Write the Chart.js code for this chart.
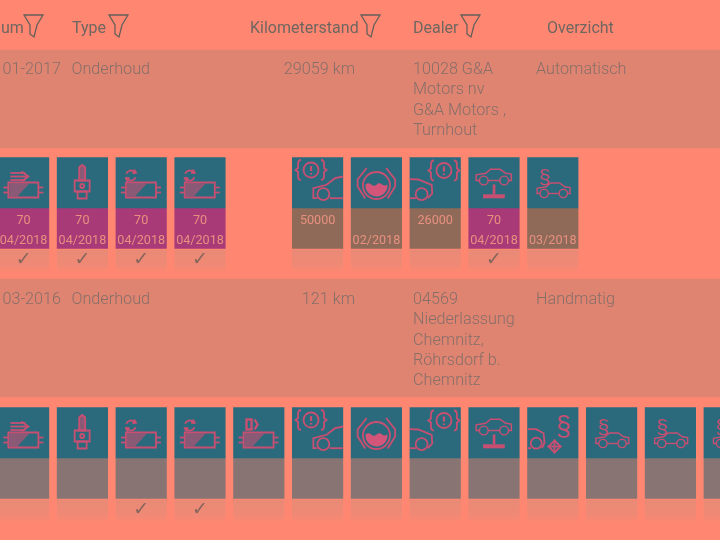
<!DOCTYPE html>
<html>
<head>
<meta charset="utf-8">
<style>
html, body { margin: 0; padding: 0; background: #ff8772; overflow: hidden; }
canvas { display: block; }
</style>
<script src="https://cdn.jsdelivr.net/npm/chart.js@4/dist/chart.umd.min.js"></script>
</head>
<body>
<canvas id="chart" width="720" height="540"></canvas>
<script>
// table contents
const headers = ["um", "Type", "Kilometerstand", "Dealer", "Overzicht"];
const dates = ["01-2017", "03-2016"];
const types = ["Onderhoud", "Onderhoud"];
const mileages = ["29059 km", "121 km"];
const dealers = [
    ["10028 G&A", "Motors nv", "G&A Motors ,", "Turnhout"],
    ["04569", "Niederlassung", "Chemnitz,", "Röhrsdorf b.", "Chemnitz"]
];
const overviews = ["Automatisch", "Handmatig"];

// service tiles, one entry per slot, null = empty slot
const row1Icons = ["air", "plug", "oil", "oil", null, "brakeL", "fluid", "brakeR", "lift", "law"];
const row1Values = ["70", "70", "70", "70", "", "50000", "", "26000", "70", ""];
const row1Dates = ["04/2018", "04/2018", "04/2018", "04/2018", "", "", "02/2018", "", "04/2018", "03/2018"];
const row1Done = [1, 1, 1, 1, 0, 0, 0, 0, 1, 0];

const row2Icons = ["air", "plug", "oil", "oil", "fuel", "brakeL", "fluid", "brakeR", "lift", "tow", "law", "law", "law"];
const row2Done = [0, 0, 1, 1, 0, 0, 0, 0, 0, 0, 0, 0, 0];

// colours
const BG = "#ff8772", STRIPE = "#e08472", TEAL = "#2b6a7c", MAGENTA = "#a83a78",
    BROWN = "#8f6a59", GREY = "#887573", ICON = "#c94f72", HEAD = "#6f6660", TEXT = "#866f68", TILE = "#e8907f";

// layout bands (page rows)
const stripes = [[50, 148], [279, 397]];
const tops = [157.5, 407.5];
const SPLIT = 50.5, LOWER = 91, FADE_TOP = 92.5, FADE_BOT = 114;
const FONT = "Roboto, 'Liberation Sans', sans-serif";

const rows = [
    { icons: row1Icons, done: row1Done, values: row1Values, dates: row1Dates },
    { icons: row2Icons, done: row2Done, values: [], dates: [] }
];

const tealBars = [], lowerBars = [], lowerColors = [], fadeBars = [];
rows.forEach((r, ri) => {
    r.icons.forEach((ic, i) => {
        if (!ic) return;
        const t = tops[ri];
        tealBars.push({ x: i, y: [t, t + SPLIT] });
        lowerBars.push({ x: i, y: [t + SPLIT, t + LOWER] });
        fadeBars.push({ x: i, y: [t + FADE_TOP, t + FADE_BOT] });
        const hasInfo = r.values[i] || r.dates[i];
        lowerColors.push(r.done[i] && hasInfo ? MAGENTA : hasInfo ? BROWN : GREY);
    });
});

// icons are drawn in tile coordinates (0..50)
function line(c, pts, close) {
    c.beginPath();
    pts.forEach((p, i) => i ? c.lineTo(p[0], p[1]) : c.moveTo(p[0], p[1]));
    if (close) c.closePath();
    c.stroke();
}
function circle(c, x, y, r) {
    c.beginPath();
    c.arc(x, y, r, 0, Math.PI * 2);
    c.stroke();
}
function canister(c) {
    line(c, [[10, 25], [10, 40], [40, 40], [40, 25]], true);
    line(c, [[5, 30], [10, 30]]); line(c, [[5, 35], [10, 35]]);
    line(c, [[40, 30], [45, 30]]); line(c, [[40, 35], [45, 35]]);
    c.save();
    c.fillStyle = "rgba(201,79,114,0.6)";
    c.beginPath();
    c.moveTo(11, 26); c.lineTo(31, 26); c.lineTo(19, 39); c.lineTo(11, 39);
    c.closePath();
    c.fill();
    c.restore();
}
function warning(c, x, y) {
    circle(c, x, y, 7.5);
    c.save();
    c.lineWidth = 2.2;
    line(c, [[x, y - 4], [x, y + 1]]);
    line(c, [[x, y + 3], [x, y + 4.5]]);
    c.restore();
    [-1, 1].forEach(s => {
        c.beginPath();
        c.moveTo(x + s * 10, y - 10);
        c.quadraticCurveTo(x + s * 13, y - 10, x + s * 13, y - 6);
        c.lineTo(x + s * 13, y - 2);
        c.lineTo(x + s * 15.5, y);
        c.lineTo(x + s * 13, y + 2);
        c.lineTo(x + s * 13, y + 6);
        c.quadraticCurveTo(x + s * 13, y + 10, x + s * 10, y + 10);
        c.stroke();
    });
}
function smallCar(c, x, y, s) {
    c.save();
    c.translate(x, y);
    c.scale(s, s);
    line(c, [[-18, 8], [-22, 8], [-22, 1], [-10, -1], [-4, -6], [8, -6], [15, -1], [22, 0], [22, 8], [18, 8]]);
    line(c, [[-7, 8], [8, 8]]);
    circle(c, -12.5, 8, 5.5);
    circle(c, 13, 8, 5.5);
    c.restore();
}
function lawMark(c, x, y, size) {
    c.save();
    c.fillStyle = ICON;
    c.font = size + "px 'Liberation Sans'";
    c.textAlign = "center";
    c.fillText("§", x, y);
    c.restore();
}
const iconDraw = {
    air(c) {
        canister(c);
        line(c, [[12, 15.5], [27, 15.5]]);
        line(c, [[12, 19], [30, 19]]);
        line(c, [[12, 22.5], [27, 22.5]]);
        line(c, [[23, 14], [30, 19], [23, 24]]);
    },
    plug(c) {
        c.save();
        c.fillStyle = "rgba(201,79,114,0.6)";
        c.fillRect(22, 8, 6, 15);
        c.restore();
        line(c, [[22, 10], [25, 7.5], [28, 10], [28, 23], [22, 23]], true);
        line(c, [[17.5, 23], [32.5, 23], [32.5, 34], [17.5, 34]], true);
        line(c, [[20.5, 34], [29.5, 34], [29.5, 41], [20.5, 41]], true);
        circle(c, 25, 28.5, 2);
    },
    oil(c) {
        canister(c);
        c.beginPath(); c.arc(15, 18, 5, 0.4, 2.8); c.stroke();
        c.beginPath(); c.arc(15, 18, 5, 3.5, 5.9); c.stroke();
        line(c, [[18, 12], [20, 15], [16.5, 15.5]]);
        line(c, [[12, 24], [10, 21], [13.5, 20.5]]);
    },
    fuel(c) {
        canister(c);
        c.save();
        c.lineWidth = 2.4;
        line(c, [[13, 12], [18, 12], [18, 22], [13, 22]], true);
        line(c, [[21, 12], [24, 17], [21, 22]]);
        c.restore();
    },
    brakeL(c) {
        warning(c, 18.7, 12.5);
        line(c, [[51, 19], [42.7, 20.7], [34.3, 27.3], [21, 30.7], [21, 40.7], [25, 40.7]]);
        line(c, [[37.5, 40.7], [51, 40.7]]);
        circle(c, 31, 36.7, 6);
    },
    fluid(c) {
        circle(c, 25.3, 28, 13.5);
        c.save();
        c.fillStyle = "#d4557a";
        c.beginPath();
        c.moveTo(14.5, 27);
        c.quadraticCurveTo(17, 24.5, 20, 27);
        c.quadraticCurveTo(23, 29.5, 25.5, 27);
        c.quadraticCurveTo(28, 24.5, 31, 27);
        c.quadraticCurveTo(33.5, 29, 36, 27);
        c.arc(25.3, 28, 11, -0.1, Math.PI + 0.1);
        c.closePath();
        c.fill();
        c.restore();
        line(c, [[15.5, 10.5], [6.5, 22], [6.5, 29], [14, 41]]);
        line(c, [[35, 10.5], [44, 22], [44, 29], [36.5, 41]]);
    },
    brakeR(c) {
        warning(c, 34, 13);
        line(c, [[0, 21.7], [8.3, 22], [21.7, 27.3], [22.3, 36], [18, 40.7]]);
        line(c, [[0, 40.7], [6, 40.7]]);
        circle(c, 11.7, 36.7, 6);
    },
    lift(c) {
        smallCar(c, 25, 16.6, 0.8);
        c.save();
        c.lineWidth = 2.6;
        line(c, [[25.3, 27], [25.3, 37]]);
        c.lineWidth = 4;
        line(c, [[14.3, 38.8], [36, 38.8]]);
        c.restore();
    },
    law(c) {
        lawMark(c, 17.3, 26, 21);
        smallCar(c, 26, 30, 0.75);
    },
    tow(c) {
        lawMark(c, 36.3, 27, 27);
        line(c, [[0, 21.7], [8.7, 21.7], [16, 25.7], [17, 35], [14.5, 40.7]]);
        line(c, [[0, 40.7], [3.5, 40.7]]);
        circle(c, 8.7, 35.7, 5.5);
        line(c, [[27, 33], [33, 39], [27, 45], [21, 39]], true);
        line(c, [[20, 39], [34, 39]]);
        line(c, [[27, 32], [27, 46]]);
    }
};

function funnel(c, x, y) {
    c.save();
    c.strokeStyle = "#655f5a";
    c.lineWidth = 1.3;
    line(c, [[x, y], [x + 19, y], [x + 13, y + 10], [x + 10, y + 22], [x + 6, y + 19], [x + 6, y + 10]], true);
    c.restore();
}

// page text and icons go on top of the bars, placed through the chart scales
const tablePlugin = {
    id: "table",
    afterDatasetsDraw(chart) {
        const c = chart.ctx, xs = chart.scales.x, ys = chart.scales.y;
        const cx = i => xs.getPixelForValue(i);
        const py = v => ys.getPixelForValue(v);
        c.save();
        c.filter = "blur(0.4px)";
        c.textBaseline = "alphabetic";

        // header
        c.font = "16px " + FONT;
        c.fillStyle = HEAD;
        c.textAlign = "left";
        [[headers[0], 1, 24], [headers[1], 72, 109], [headers[2], 250, 361], [headers[3], 413, 461], [headers[4], 547, null]]
            .forEach(h => {
                c.fillText(h[0], h[1], py(33));
                if (h[2] !== null) funnel(c, h[2], py(15));
            });

        // rows
        c.font = "300 16.2px " + FONT;
        c.fillStyle = TEXT;
        [74, 304].forEach((base, r) => {
            c.textAlign = "right";
            c.fillText(dates[r], 61, py(base));
            c.fillText(mileages[r], 355, py(base));
            c.textAlign = "left";
            c.fillText(types[r], 71.5, py(base));
            c.fillText(overviews[r], 536, py(base));
            dealers[r].forEach((l, i) => c.fillText(l, 413, py(base + i * 20.3)));
        });

        // tiles
        rows.forEach((r, ri) => {
            const t = tops[ri];
            r.icons.forEach((ic, i) => {
                if (!ic) return;
                const left = cx(i) - 25.25;
                c.save();
                c.translate(left, py(t));
                c.strokeStyle = ICON;
                c.lineWidth = 1.8;
                c.beginPath();
                c.rect(0, 0, 50.5, 50.5);
                c.clip();
                iconDraw[ic](c);
                c.restore();

                c.font = "12.6px " + FONT;
                c.fillStyle = TILE;
                c.textAlign = "center";
                if (r.values[i]) c.fillText(r.values[i], cx(i), py(t + 66.5));
                if (r.dates[i]) c.fillText(r.dates[i], cx(i), py(t + 86.5));
                if (r.done[i]) {
                    c.font = "19px 'DejaVu Sans'";
                    c.fillStyle = "#85655c";
                    c.fillText("✓", cx(i), py(t + 107.5));
                }
            });
        });
        c.restore();
    }
};

const barBase = { borderWidth: 0, borderSkipped: false, grouped: false, barThickness: 50.5 };

new Chart(document.getElementById("chart"), {
    type: "bar",
    data: {
        datasets: [
            {
                ...barBase, label: "tiles", order: 1,
                data: tealBars, backgroundColor: TEAL
            },
            {
                ...barBase, label: "info", order: 1,
                data: lowerBars, backgroundColor: lowerColors
            },
            {
                ...barBase, label: "fade", order: 2, data: fadeBars,
                backgroundColor(ctx) {
                    const raw = ctx.raw;
                    if (!raw || !ctx.chart.chartArea) return BG;
                    const y = ctx.chart.scales.y;
                    const y0 = y.getPixelForValue(raw.y[0]), y1 = y.getPixelForValue(raw.y[1]);
                    if (!isFinite(y0) || !isFinite(y1)) return BG;
                    const g = ctx.chart.ctx.createLinearGradient(0, y0, 0, y1);
                    g.addColorStop(0, "#e98a76");
                    g.addColorStop(0.7, "#ef8975");
                    g.addColorStop(1, "#fd8772");
                    return g;
                }
            },
            {
                ...barBase, label: "stripes", order: 3, barThickness: 722,
                data: stripes.map(s => ({ x: 5.73, y: s })), backgroundColor: STRIPE
            }
        ]
    },
    options: {
        responsive: false,
        animation: false,
        layout: { padding: 0 },
        plugins: { legend: { display: false }, tooltip: { enabled: false } },
        scales: {
            x: { type: "linear", display: false, min: -23.6 / 58.8, max: (720 - 23.6) / 58.8, offset: false },
            y: { type: "linear", display: false, min: 0, max: 540, reverse: true }
        }
    },
    plugins: [tablePlugin]
});
</script>
</body>
</html>
